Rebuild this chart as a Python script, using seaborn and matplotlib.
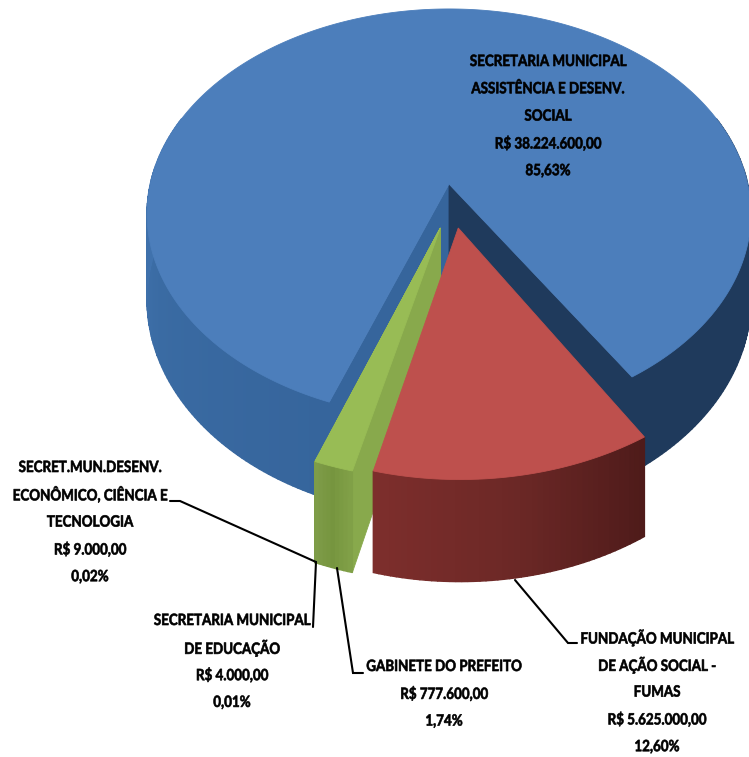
# -*- coding: utf-8 -*-
# Pizza 3D do orcamento por secretaria
import numpy as np
import seaborn as sns
import matplotlib.pyplot as plt
import matplotlib.patheffects as pe
from matplotlib.transforms import Affine2D

# dados
orgaos = ["SECRETARIA MUNICIPAL\nASSISTÊNCIA E DESENV.\nSOCIAL",
          "FUNDAÇÃO MUNICIPAL\nDE AÇÃO SOCIAL -\nFUMAS",
          "GABINETE DO PREFEITO",
          "SECRETARIA MUNICIPAL\nDE EDUCAÇÃO",
          "SECRET.MUN.DESENV.\nECONÔMICO, CIÊNCIA E\nTECNOLOGIA"]
valores = [38224600, 5625000, 777600, 4000, 9000]
valores_txt = ["R$ 38.224.600,00", "R$ 5.625.000,00", "R$ 777.600,00", "R$ 4.000,00", "R$ 9.000,00"]
pct_txt = ["85,63%", "12,60%", "1,74%", "0,01%", "0,02%"]

# camera e posicao, em pixels da figura
CX, CY = 449, 184
W, H, P = 298.7, 200.6, 0.146
PROF = 84
INICIO = 31.5

sns.set_theme(style="white")
fonte = "Lato"


class Estreita(pe.AbstractPathEffect):
    # aperta o texto na horizontal, em volta do proprio centro, e engrossa o traco
    def __init__(self, sx, lw):
        super().__init__()
        self.sx = sx
        self.lw = lw

    def draw_path(self, renderer, gc, tpath, affine, rgbFace=None):
        ext = tpath.get_extents()
        cx = (ext.x0 + ext.x1) / 2
        aff = Affine2D().translate(-cx, 0).scale(self.sx, 1).translate(cx, 0) + affine
        gc0 = renderer.new_gc()
        gc0.copy_properties(gc)
        gc0.set_linewidth(self.lw)
        gc0.set_foreground("black")
        renderer.draw_path(gc0, tpath, aff, rgbFace)
        gc0.restore()


def proj(X, Y, z=0.0):
    esc = 1 / (1 + P * np.asarray(Y))
    return CX + W * np.asarray(X) * esc, CY - H * np.asarray(Y) * esc + z * PROF * esc


def borda(theta, off, z=0.0):
    t = np.radians(theta)
    return proj(np.sin(t) + off[0], -np.cos(t) + off[1], z)


def ponta(off, z=0.0):
    return proj(np.array([off[0]]), np.array([off[1]]), z)


fig = plt.figure(figsize=(7.49, 7.57), dpi=100)
ax = fig.add_axes([0, 0, 1, 1])
ax.set_xlim(0, 749)
ax.set_ylim(757, 0)
ax.axis("off")

# angulos a partir dos valores, sentido horario a partir da borda direita do azul
frac = 360 * np.array(valores) / sum(valores)
fim = INICIO - np.cumsum(np.r_[frac[1:], frac[0]])
ini = np.r_[INICIO, fim[:-1]]
ang = {}
for i, (a, b) in zip([1, 2, 3, 4, 0], zip(ini, fim)):
    ang[i] = (a, b)

verde = {"topo": "#98BC55", "corte": "#88A94C", "parede": ["#7E9C48", "#76953F", "#80A047"]}
fatias = [
    dict(i=4, off=(-0.028, -0.2125), **verde),
    dict(i=3, off=(-0.028, -0.2125), **verde),
    dict(i=2, off=(-0.028, -0.2125), **verde),
    dict(i=1, off=(0.03, -0.2125), topo="#BE504D", corte=None, parede=["#7D2E2C", "#6C2826", "#4F1B1A"]),
]


def parede(a, b, off, cores, zorder):
    th = np.linspace(a, b, int(abs(a - b)) + 4)
    pal = sns.blend_palette(cores, len(th) - 1)
    for k in range(len(th) - 1):
        x0, y0 = borda(th[k:k + 2], off)
        x1, y1 = borda(th[k:k + 2], off, 1.0)
        ax.fill(np.r_[x0, x1[::-1]], np.r_[y0, y1[::-1]], color=pal[k], lw=1.0, zorder=zorder)


def corte(theta, off, cor, zorder):
    xa, ya = ponta(off)
    xb, yb = ponta(off, 1.0)
    x0, y0 = borda(np.array([theta]), off)
    x1, y1 = borda(np.array([theta]), off, 1.0)
    ax.fill(np.r_[xa, x0, x1, xb], np.r_[ya, y0, y1, yb], color=cor, lw=0.6, zorder=zorder)


def topo(a, b, off, cor, zorder):
    th = np.linspace(a, b, max(int(abs(a - b)) * 2, 4))
    xa, ya = ponta(off)
    x, y = borda(th, off)
    ax.fill(np.r_[xa, x], np.r_[ya, y], color=cor, lw=0.6, zorder=zorder)


# fatia azul: parede esquerda, parede direita, cortes e topo
a_dir = INICIO + 1
a_esq = ang[0][0]
sem = (0, 0)
parede(a_esq, -110, sem, ["#36659C", "#3A6BA3", "#4477B4"], 1)
parede(a_dir, 110, sem, ["#1F3A5C", "#1F3A5C"], 1)
corte(a_esq, sem, "#36659C", 2)
corte(a_dir, sem, "#1F3A5C", 2)
topo(a_esq, a_dir - 360, sem, "#4C7EBB", 3)

# fatias destacadas
z = 4
for f in fatias:
    a, b = ang[f["i"]]
    if f["corte"]:
        corte(a, f["off"], f["corte"], z)
    parede(b, a, f["off"], f["parede"], z + 1)
    topo(a, b, f["off"], f["topo"], z + 2)
    z += 3

# rotulos
pos_rotulos = {0: (548, 62), 1: (657, 638), 2: (444, 667), 3: (232, 621), 4: (90, 468)}
for i, (x, y0) in pos_rotulos.items():
    linhas = orgaos[i].split("\n") + [valores_txt[i], pct_txt[i]]
    for n, t in enumerate(linhas):
        ax.text(x, y0 + n * 27.3, t, ha="center", va="center", family=fonte, weight="bold",
                fontsize=11.2, color="black", zorder=30, path_effects=[Estreita(0.86, 0.45)])

# linhas de chamada
chamadas = [([170, 180, 316], [501, 501, 562]),
            ([316, 313], [562, 627]),
            ([337, 353, 363], [568, 673, 673]),
            ([515, 568, 577], [580, 643, 643])]
for xs, ys in chamadas:
    ax.plot(xs, ys, color="black", lw=1.5, zorder=25, solid_joinstyle="miter")

fig.savefig("out.png", dpi=100)
